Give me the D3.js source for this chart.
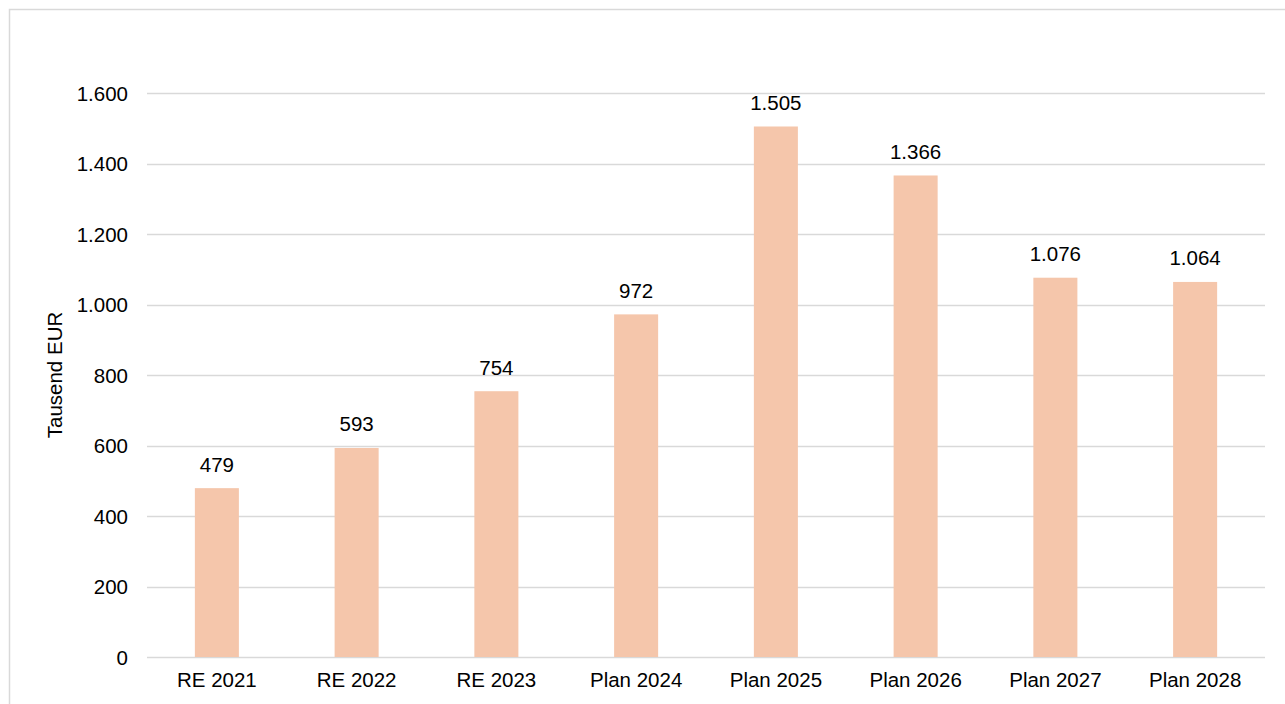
<!DOCTYPE html>
<html>
<head>
<meta charset="utf-8">
<script src="https://cdn.jsdelivr.net/npm/d3@7"></script>
<style>
  html, body { margin: 0; padding: 0; background: #fff; }
  svg { display: block; font-family: "Liberation Sans", Arial, sans-serif; }
</style>
</head>
<body>
<svg id="chart" width="1285" height="704"></svg>
<script>
// Annual values in thousand EUR
const categories = ["RE 2021", "RE 2022", "RE 2023", "Plan 2024", "Plan 2025", "Plan 2026", "Plan 2027", "Plan 2028"];
const values = [479, 593, 754, 972, 1505, 1366, 1076, 1064];
const yTicks = [0, 200, 400, 600, 800, 1000, 1200, 1400, 1600];
const yLabel = "Tausend EUR";

const svg = d3.select("#chart");
const W = 1285, H = 704;
const margin = { top: 93, right: 20, bottom: 47, left: 147 };
const innerW = W - margin.left - margin.right;
const innerH = H - margin.top - margin.bottom;

// German number format: dot as thousands separator
const fmt = d3.formatLocale({ decimal: ",", thousands: ".", grouping: [3], currency: ["", " €"] }).format(",d");

// outer frame
svg.append("rect")
  .attr("x", 9.5).attr("y", 9.5)
  .attr("width", W + 10).attr("height", H + 10)
  .attr("fill", "none").attr("stroke", "#d9d9d9").attr("stroke-width", 1.5);

const g = svg.append("g").attr("transform", `translate(${margin.left},${margin.top})`);

const x = d3.scaleBand().domain(categories).range([0, innerW]).paddingInner(0.685).paddingOuter(0.3425);
const y = d3.scaleLinear().domain([0, 1600]).range([innerH, 0]);

// gridlines
g.append("g").selectAll("line").data(yTicks).join("line")
  .attr("x1", 0).attr("x2", innerW)
  .attr("y1", d => Math.round(y(d)) + 0.5).attr("y2", d => Math.round(y(d)) + 0.5)
  .attr("stroke", "#d9d9d9").attr("stroke-width", 1.5);

// y axis labels
const yAxis = g.append("g")
  .call(d3.axisLeft(y).tickValues(yTicks).tickFormat(fmt).tickSize(0).tickPadding(19));
yAxis.select(".domain").remove();
yAxis.selectAll("text")
  .attr("font-family", "Liberation Sans, Arial, sans-serif")
  .attr("font-size", "20.5px").attr("fill", "#000")
  .attr("dy", "0.35em");

// x axis labels
const xAxis = g.append("g").attr("transform", `translate(0,${innerH})`)
  .call(d3.axisBottom(x).tickSize(0).tickPadding(15));
xAxis.select(".domain").remove();
xAxis.selectAll("text")
  .attr("font-family", "Liberation Sans, Arial, sans-serif")
  .attr("font-size", "20.5px").attr("fill", "#000");

// bars
g.append("g").selectAll("rect").data(values).join("rect")
  .attr("x", (d, i) => x(categories[i]))
  .attr("y", d => y(d))
  .attr("width", x.bandwidth())
  .attr("height", d => innerH - y(d))
  .attr("fill", "#f5c6ab");

// value labels
g.append("g").selectAll("text").data(values).join("text")
  .attr("x", (d, i) => x(categories[i]) + x.bandwidth() / 2)
  .attr("y", d => y(d) - 16.5)
  .attr("text-anchor", "middle")
  .attr("font-size", "20.5px").attr("fill", "#000")
  .text(d => fmt(d));

// y axis title, centred on the plot area
svg.append("text")
  .attr("transform", `translate(62,${margin.top + innerH / 2}) rotate(-90)`)
  .attr("text-anchor", "middle")
  .attr("font-size", "20.5px").attr("fill", "#000")
  .text(yLabel);
</script>
</body>
</html>
